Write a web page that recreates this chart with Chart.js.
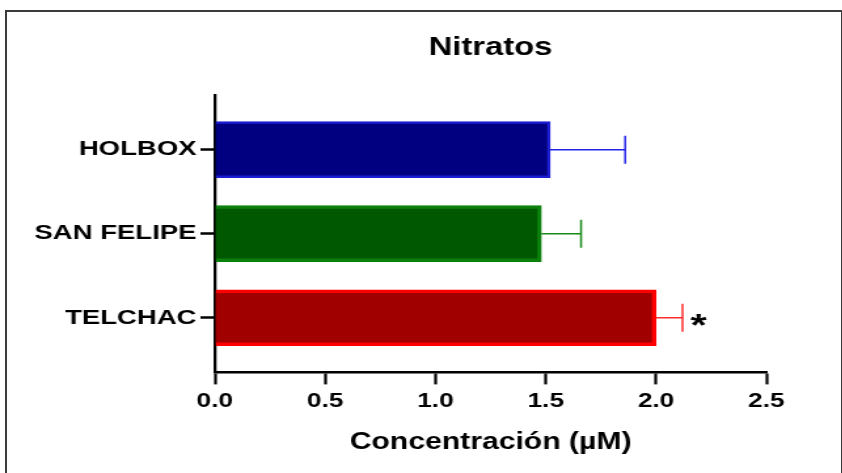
<!DOCTYPE html>
<html>
<head>
<meta charset="utf-8">
<title>Nitratos</title>
<script src="https://cdn.jsdelivr.net/npm/chart.js@4"></script>
<style>
  html, body { margin: 0; padding: 0; background: #fff; }
  body { width: 842px; height: 473px; overflow: hidden; position: relative; }
  /* el lienzo se dibuja angosto y se estira a lo ancho */
  #envoltura { position: absolute; left: 0; top: 0; width: 643px; height: 473px; transform-origin: 0 0; transform: scaleX(1.31); }
  #marco { position: absolute; left: 5px; top: 10px; width: 834px; height: 480px; border: 2px solid #3c3c3c; border-bottom: none; }
</style>
</head>
<body>
<div id="envoltura"><canvas id="grafico" width="643" height="473"></canvas></div>
<div id="marco"></div>
<script>
// Datos
const sitios = ['HOLBOX', 'SAN FELIPE', 'TELCHAC'];
const media = [1.52, 1.48, 2.0];
const errorEstandar = [0.34, 0.18, 0.12];
const significancia = ['', '', '*'];
const ticksX = [0, 0.5, 1, 1.5, 2, 2.5];

// Colores por sitio
const relleno = ['#000080', '#005800', '#a00000'];
const contorno = ['#1c1cd2', '#0b800b', '#ff0000'];
const colorError = ['#2424e8', '#1a8a1a', '#ff2a2a'];

const FUENTE = '"Liberation Sans", Arial, Helvetica, sans-serif';

// Barras de error (solo hacia la derecha) y marca de significancia
const barrasError = {
    id: 'barrasError',
    afterDatasetsDraw(chart) {
        const { ctx, scales: { x, y } } = chart;
        ctx.save();
        ctx.lineWidth = 1.5;
        media.forEach((m, i) => {
            const x0 = x.getPixelForValue(m);
            const x1 = x.getPixelForValue(m + errorEstandar[i]);
            const yc = y.getPixelForValue(i);
            ctx.strokeStyle = colorError[i];
            ctx.beginPath();
            ctx.moveTo(x0, yc);
            ctx.lineTo(x1, yc);
            ctx.moveTo(x1, yc - 14);
            ctx.lineTo(x1, yc + 14);
            ctx.stroke();
            if (significancia[i]) {
                ctx.fillStyle = '#000';
                ctx.font = 'bold 32px ' + FUENTE;
                ctx.textAlign = 'left';
                ctx.textBaseline = 'alphabetic';
                ctx.fillText(significancia[i], x1 + 6, yc + 18);
            }
        });
        ctx.restore();
    }
};

new Chart(document.getElementById('grafico'), {
    type: 'bar',
    data: {
        datasets: [{
            data: media.map((v, i) => ({ x: v, y: i })),
            backgroundColor: relleno,
            borderColor: contorno,
            borderWidth: [2.5, 3.5, 3.5],
            borderSkipped: 'start',
            barThickness: 56
        }]
    },
    options: {
        indexAxis: 'y',
        responsive: false,
        animation: false,
        layout: { padding: { left: 0, right: 58, top: 0, bottom: 0 } },
        plugins: {
            legend: { display: false },
            tooltip: { enabled: false },
            title: {
                display: true,
                text: 'Nitratos',
                fullSize: false,
                color: '#000',
                font: { family: FUENTE, size: 25, weight: 'bold' },
                padding: { top: 33, bottom: 32 }
            }
        },
        scales: {
            x: {
                type: 'linear',
                min: 0,
                max: 2.5,
                afterBuildTicks: s => { s.ticks = ticksX.map(v => ({ value: v })); },
                ticks: {
                    callback: v => v.toFixed(1),
                    color: '#000',
                    font: { family: FUENTE, size: 20, weight: 'bold' },
                    padding: 5,
                    maxRotation: 0
                },
                grid: { drawOnChartArea: false, tickLength: 12, tickWidth: 2.2, tickColor: '#000' },
                border: { color: '#000', width: 2.5 },
                title: {
                    display: true,
                    text: 'Concentración (µM)',
                    color: '#000',
                    font: { family: FUENTE, size: 23, weight: 'bold' },
                    padding: { top: 10, bottom: 17 }
                }
            },
            y: {
                type: 'linear',
                reverse: true,
                offset: false,
                min: -0.65,
                max: 2.65,
                afterBuildTicks: s => { s.ticks = sitios.map((_, i) => ({ value: i })); },
                afterFit: s => { s.width = 164; },
                ticks: {
                    callback: v => sitios[v],
                    color: '#000',
                    font: { family: FUENTE, size: 21, weight: 'bold' },
                    padding: 3
                },
                grid: { offset: false, drawOnChartArea: false, tickLength: 11, tickWidth: 2.5, tickColor: '#000' },
                border: { color: '#000', width: 2.3 }
            }
        }
    },
    plugins: [barrasError]
});
</script>
</body>
</html>
